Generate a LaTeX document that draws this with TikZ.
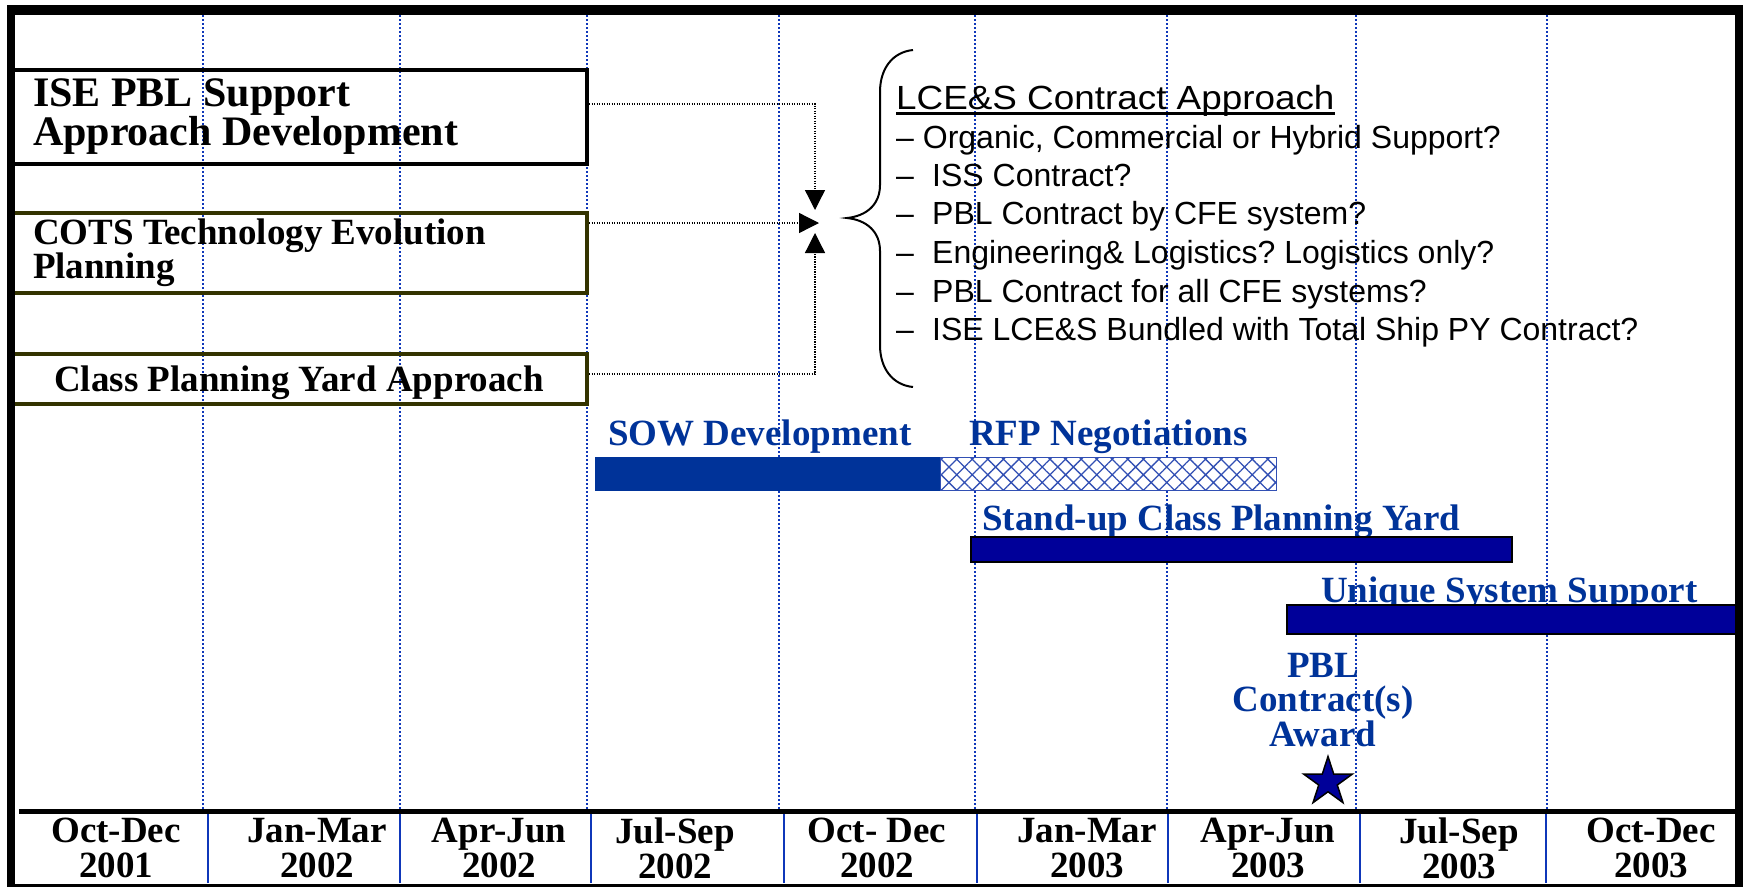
\documentclass[tikz,border=0pt]{standalone}
\usepackage{fontspec}
\setmainfont{Liberation Serif}
\newfontfamily\arialf{Liberation Sans}
\usetikzlibrary{arrows.meta,shapes.geometric,patterns.meta,calc}
\definecolor{lblue}{RGB}{0,51,153}
\definecolor{navy}{RGB}{0,0,153}
\definecolor{gridblue}{RGB}{15,55,185}
\definecolor{olivedark}{RGB}{51,51,0}
\definecolor{hatchblue}{RGB}{50,80,180}
\frenchspacing
\begin{document}
\begin{tikzpicture}[x=1pt,y=-1pt,
  gridline/.style={gridblue,line width=2.2pt,dash pattern=on 2pt off 2pt},
  sepline/.style={gridblue,line width=1.6pt},
  phasebox/.style={draw,line width=4pt,minimum width=576pt,inner ysep=0pt,font=\bfseries},
  conn/.style={black,line width=1.3pt,dash pattern=on 1.2pt off 1.3pt},
  tiparrow/.style={-{Triangle[width=20pt,length=20pt]}},
  bluelabel/.style={text=lblue,font=\fontsize{37}{34.5}\selectfont\bfseries,inner sep=0pt},
  quarter/.style={font=\fontsize{37}{35}\selectfont\bfseries,align=center,inner sep=0pt},
  item/.style={font=\arialf\fontsize{32}{38}\selectfont,anchor=base west,inner sep=0pt},
  barnode/.style={inner sep=0pt}
]
\useasboundingbox (0,0) rectangle (1748,887);
\fill[white] (0,0) rectangle (1748,887);

% dotted grid lines
\foreach \gx in {203,400,587,779,975,1167,1356,1547}
  \draw[gridline] (\gx,15) -- (\gx,809);
% solid separators in the bottom row
\foreach \sx in {208,400,591,784,977,1168,1360,1546}
  \draw[sepline] (\sx,814) -- (\sx,883);

% phase boxes
\node[phasebox,minimum height=94pt,inner xsep=22pt,text width=532pt,align=flush left,
      font=\fontsize{42}{38}\selectfont\bfseries] (ise) at (299,117)
  {ISE PBL Support\\Approach Development};
\node[phasebox,draw=olivedark,minimum height=80pt,inner xsep=22pt,text width=532pt,align=flush left,
      font=\fontsize{37}{34}\selectfont\bfseries] (cots) at (299,253)
  {COTS Technology Evolution\\Planning};
\node[phasebox,draw=olivedark,minimum height=50pt,inner xsep=0pt,text depth=0pt,
      font=\fontsize{37}{34}\selectfont\bfseries] (cls) at (299,379)
  {Class Planning Yard Approach};

% connectors
\coordinate (tA) at (815,210);
\coordinate (tB) at (819,223);
\coordinate (tC) at (815,233);
\draw[conn,tiparrow] ([yshift=13pt]ise.east) -| (tA);
\draw[conn,tiparrow] ([yshift=30pt]cots.east) -- (tB);
\draw[conn,tiparrow] ([yshift=5pt]cls.east) -| (tC);

% brace
\draw[line width=2pt] (913,50) .. controls (893,52) and (880,68) .. (880,92)
  -- (880,185) .. controls (880,205) and (866,216) .. (847,218)
  .. controls (866,220) and (880,231) .. (880,251)
  -- (880,345) .. controls (880,369) and (893,385) .. (913,387);

% contract approach text
\node[anchor=base west,inner sep=0pt,font=\arialf\fontsize{33.5}{38}\selectfont] (title) at (896,109)
  {\scalebox{1.1}[1]{LCE\&S Contract Approach}};
\draw[line width=2.6pt] ([yshift=-4.5pt]title.base west) -- ([yshift=-4.5pt]title.base east);
\node[item] (i1) at (896,148) {– Organic, Commercial or Hybrid Support?};
\node[item] (i2) at (896,186) {\makebox[36pt][l]{–}ISS Contract?};
\node[item] (i3) at (896,224) {\makebox[36pt][l]{–}PBL Contract by CFE system?};
\node[item] (i4) at (896,263) {\makebox[36pt][l]{–}Engineering\& Logistics? Logistics only?};
\node[item] (i5) at (896,302) {\makebox[36pt][l]{–}PBL Contract for all CFE systems?};
\node[item] (i6) at (896,340) {\makebox[36pt][l]{–}ISE LCE\&S Bundled with Total Ship PY Contract?};

% bar labels
\node[bluelabel,anchor=base west] (sowlab) at (608,445) {SOW Development};
\node[bluelabel,anchor=base west] (rfplab) at (969,445) {RFP Negotiations};
\node[bluelabel,anchor=base west] (cpylab) at (982,530) {Stand-up Class Planning Yard};
\node[bluelabel,anchor=base west] (usslab) at (1321,602) {Unique System Support};
\node[bluelabel,align=center] (pbllab) at (1323,700) {PBL\\Contract(s)\\Award};

% bars
\node[barnode,draw=lblue,fill=lblue,minimum width=345pt,minimum height=33pt] (sowbar) at (767.5,473.5) {};
\node[barnode,draw=hatchblue,line width=1pt,preaction={fill=white},
      pattern={Hatch[angle=45,distance=11pt,line width=1.3pt]},pattern color=hatchblue,
      minimum width=336pt,minimum height=33pt] (rfpbar) at (1108,473.5) {};
\node[barnode,draw=black,line width=1.5pt,fill=navy,minimum width=541pt,minimum height=25pt] (cpybar) at (1241.5,549.5) {};
\node[barnode,draw=black,line width=1.5pt,fill=navy,minimum width=453pt,minimum height=29pt] (ussbar) at (1513.5,619.5) {};

% milestone star
\node[star,star points=5,star point ratio=2.618,minimum size=51pt,inner sep=0pt,
      draw=black,line width=1.5pt,fill=navy] (award) at (1328,782) {};

% quarter labels
\node[quarter] (q1) at (116,848) {Oct-Dec\\2001};
\node[quarter] (q2) at (317,848) {Jan-Mar\\2002};
\node[quarter] (q3) at (499,848) {Apr-Jun\\2002};
\node[quarter] (q4) at (675,848) {Jul-Sep\\2002};
\node[quarter] (q5) at (877,848) {Oct- Dec\\2002};
\node[quarter] (q6) at (1087,848) {Jan-Mar\\2003};
\node[quarter] (q7) at (1268,848) {Apr-Jun\\2003};
\node[quarter] (q8) at (1459,848) {Jul-Sep\\2003};
\node[quarter] (q9) at (1651,848) {Oct-Dec\\2003};

% frame
\draw[line width=5pt] (19,811.5) -- (1735,811.5);
\draw[line width=10pt] (7,10) -- (1743,10);
\draw[line width=8pt] (11,5) -- (11,887);
\draw[line width=8pt] (1739,5) -- (1739,887);
\draw[line width=3pt] (7,885) -- (1743,885);
\end{tikzpicture}
\end{document}
